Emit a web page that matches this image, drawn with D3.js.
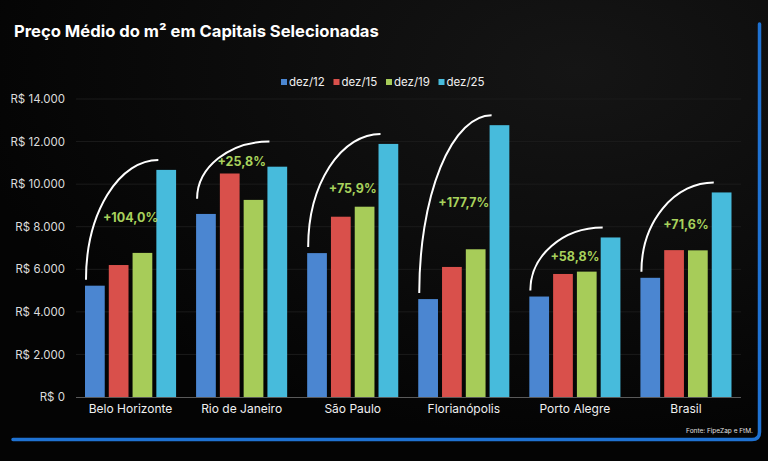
<!DOCTYPE html>
<html>
<head>
<meta charset="utf-8">
<script src="https://cdn.jsdelivr.net/npm/d3@7"></script>
<style>
  html, body { margin: 0; padding: 0; background: #060606; }
  svg { display: block; font-family: Inter, "Noto Sans", sans-serif; }
</style>
</head>
<body>
<svg id="chart" width="768" height="461"></svg>
<script>
var cities = ["Belo Horizonte", "Rio de Janeiro", "São Paulo", "Florianópolis", "Porto Alegre", "Brasil"];
var periods = ["dez/12", "dez/15", "dez/19", "dez/25"];
var dez12 = [5230, 8600, 6760, 4600, 4720, 5600];
var dez15 = [6200, 10500, 8470, 6110, 5780, 6900];
var dez19 = [6770, 9260, 8940, 6940, 5890, 6890];
var dez25 = [10670, 10820, 11890, 12770, 7495, 9610];
var growth = ["+104,0%", "+25,8%", "+75,9%", "+177,7%", "+58,8%", "+71,6%"];
var yTicks = [0, 2000, 4000, 6000, 8000, 10000, 12000, 14000];
var colors = ["#4b86d1", "#d9504b", "#a7cc59", "#47bbdc"];

var series = [dez12, dez15, dez19, dez25];
var rows = cities.map(function(c, i) {
  return { city: c, values: series.map(function(s) { return s[i]; }), label: growth[i] };
});

var svg = d3.select("#chart");

// background
var defs = svg.append("defs");
var bg = defs.append("radialGradient").attr("id", "bg").attr("cx", "0.75").attr("cy", "0.15").attr("r", "0.8");
bg.append("stop").attr("offset", "0%").attr("stop-color", "#151515");
bg.append("stop").attr("offset", "100%").attr("stop-color", "#040404");
svg.append("rect").attr("width", 768).attr("height", 461).attr("fill", "url(#bg)");

// frame (right + bottom, blue)
svg.append("path")
  .attr("d", "M13,439.5 H752 Q759.5,439.5 759.5,432 V24")
  .attr("fill", "none").attr("stroke", "#1f72d2").attr("stroke-width", 3.5)
  .attr("stroke-linecap", "round");

svg.append("text")
  .attr("x", 14).attr("y", 37)
  .attr("fill", "#ffffff").attr("font-size", 16.6).attr("font-weight", 700)
  .text("Preço Médio do m² em Capitais Selecionadas");

var x0 = d3.scaleBand().domain(cities).range([75, 741.5]).paddingInner(0.18).paddingOuter(0.09);
var x1 = d3.scaleBand().domain(d3.range(4)).range([0, x0.bandwidth()]).paddingInner(0.17);
var y = d3.scaleLinear().domain([0, 14000]).range([397, 99]);

// grid
svg.append("g").selectAll("line").data(yTicks.slice(1)).enter().append("line")
  .attr("x1", 76).attr("x2", 741)
  .attr("y1", function(d) { return y(d); }).attr("y2", function(d) { return y(d); })
  .attr("stroke", "#1b1b1b").attr("stroke-width", 1);

// y axis labels
var yAxis = d3.axisLeft(y).tickValues(yTicks).tickSize(0).tickPadding(0)
  .tickFormat(function(d) { return "R$ " + d3.format(",")(d).replace(/,/g, "."); });
var gy = svg.append("g").attr("transform", "translate(65,0)").call(yAxis);
gy.select(".domain").remove();
gy.selectAll("text").attr("fill", "#dcdcdc").attr("font-size", 11.5).attr("font-family", "Inter, sans-serif");

// bars
var groups = svg.append("g").selectAll("g").data(rows).enter().append("g")
  .attr("transform", function(d) { return "translate(" + x0(d.city) + ",0)"; });
groups.selectAll("rect").data(function(d) { return d.values; }).enter().append("rect")
  .attr("x", function(d, i) { return x1(i); })
  .attr("width", x1.bandwidth())
  .attr("y", function(d) { return y(d); })
  .attr("height", function(d) { return y(0) - y(d); })
  .attr("fill", function(d, i) { return colors[i]; });

// baseline
svg.append("line").attr("x1", 76).attr("x2", 741).attr("y1", y(0) + 0.5).attr("y2", y(0) + 0.5)
  .attr("stroke", "#5a5a5a").attr("stroke-width", 1);

// x labels
var xAxis = d3.axisBottom(x0).tickSize(0).tickPadding(0);
var gx = svg.append("g").attr("transform", "translate(0,404)").call(xAxis);
gx.select(".domain").remove();
gx.selectAll("text").attr("fill", "#f0f0f0").attr("font-size", 12).attr("font-family", "Inter, sans-serif");

// growth arcs + labels
rows.forEach(function(d) {
  var gx0 = x0(d.city);
  var mid = (y(d.values[0]) + y(d.values[3])) / 2;
  var ly = Math.min(mid - 10, y(Math.max(d.values[1], d.values[2])) - 12);
  var ex = gx0 + x1(3) + 2;
  var eyDefault = y(d.values[3]) - 10;
  var ey = Math.min(eyDefault, ly - 20);
  var sx = gx0 + x1(0) + 1;
  var sy = y(d.values[0]) - 6 - (eyDefault - ey) * 0.6;
  svg.append("path")
    .attr("d", "M" + sx + "," + sy + " A" + (ex - sx) + "," + (sy - ey) + " 0 0 1 " + ex + "," + ey)
    .attr("fill", "none").attr("stroke", "#ffffff").attr("stroke-width", 2);
  svg.append("text")
    .attr("x", gx0 + x0.bandwidth() / 2).attr("y", ly)
    .attr("dy", "0.35em").attr("text-anchor", "middle")
    .attr("fill", "#a8d25c").attr("font-size", 12.5).attr("font-weight", 700)
    .text(d.label);
});

// legend
var legend = svg.append("g").selectAll("g").data(periods).enter().append("g")
  .attr("transform", function(d, i) { return "translate(" + (281 + i * 52.5) + ",82)"; });
legend.append("rect").attr("x", 0).attr("y", -3).attr("width", 6).attr("height", 6)
  .attr("fill", function(d, i) { return colors[i]; });
legend.append("text").attr("x", 8).attr("dy", "0.35em")
  .attr("fill", "#f0f0f0").attr("font-size", 11.5).text(function(d) { return d; });

svg.append("text").attr("x", 753).attr("y", 433).attr("text-anchor", "end")
  .attr("fill", "#e0e0e0").attr("font-size", 6.5).text("Fonte: FipeZap e FtM.");
</script>
</body>
</html>
